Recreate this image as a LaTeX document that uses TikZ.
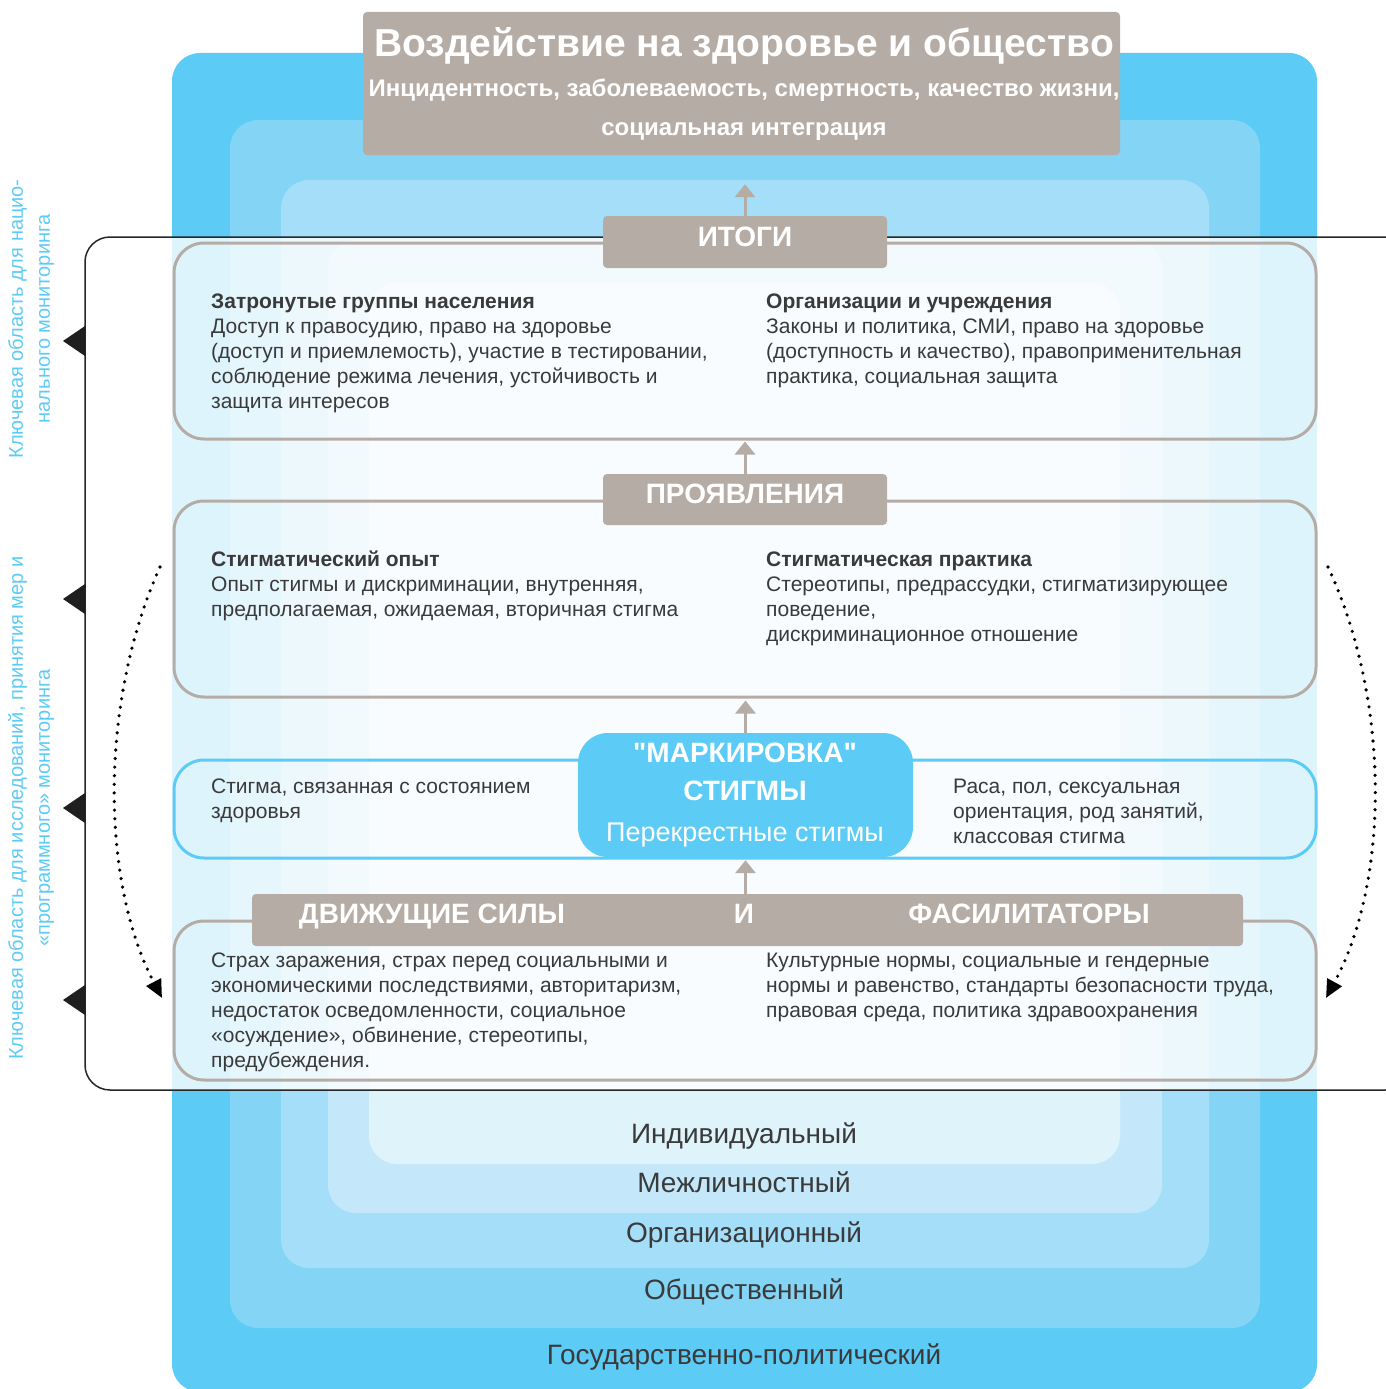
\documentclass[tikz,border=0pt]{standalone}
\usepackage{fontspec}
\setmainfont{Liberation Sans}
\newfontfamily\qfont{Liberation Sans}
\usetikzlibrary{arrows.meta}
\definecolor{lone}{HTML}{5CCBF5}
\definecolor{ltwo}{HTML}{84D4F5}
\definecolor{lthree}{HTML}{A5DEF8}
\definecolor{lfour}{HTML}{C4E8F9}
\definecolor{lfive}{HTML}{DFF3FB}
\definecolor{gbox}{HTML}{B5ACA6}
\definecolor{txt}{HTML}{3A3A3A}
\definecolor{vblue}{HTML}{5CCBF5}
\newcommand\txtblk[2]{\parbox[t]{#1pt}{\raggedright\fontsize{21}{25.2}\selectfont #2}}
\newcommand\sq{{\qfont\bfseries\symbol{34}}}
\begin{document}
\begin{tikzpicture}[x=1pt,y=-1pt,
  layer/.style={rounded corners=28pt},
  lbl/.style={fill=gbox, rounded corners=4pt, inner sep=0pt, draw=none},
  cbox/.style={draw=gbox, line width=3pt, rounded corners=30pt, inner sep=0pt},
  bbox/.style={draw=lone, line width=3pt, rounded corners=30pt, inner sep=0pt},
  garrow/.style={draw=gbox, line width=3pt, -{Triangle[length=13pt,width=20pt]}},
  body/.style={anchor=base west, inner sep=0pt, text=txt},
  lbltext/.style={anchor=base, inner sep=0pt, text=white, font=\bfseries\fontsize{28}{32}\selectfont},
  level/.style={anchor=base, inner sep=0pt, text=txt, font=\fontsize{28}{32}\selectfont},
  vtext/.style={rotate=90, text=vblue, align=center, inner sep=0pt, font=\fontsize{20}{27}\selectfont},
  dotarc/.style={line width=3.6pt, line cap=round, dash pattern=on 0pt off 8.6pt, -{Triangle[length=18pt,width=16pt]}},
  tri/.style={fill=black!88}
]
\useasboundingbox (0,0) rectangle (1386,1389);
\begin{scope}
\clip (0,0) rectangle (1386,1389);
\fill[lone, layer] (172,53) rectangle (1317,1392);
\fill[ltwo, layer] (230,120) rectangle (1260,1328);
\fill[lthree, layer] (281,180) rectangle (1209,1268);
\fill[lfour, layer] (328,240) rectangle (1162,1213);
\fill[lfive, layer] (369,283) rectangle (1120,1164);
% white overlay frame
\fill[white, opacity=0.8, rounded corners=25pt] (85,237) rectangle (1410,1090);
\draw[black!85, line width=1.5pt, rounded corners=25pt] (85,237) rectangle (1410,1090);
\end{scope}

% level labels
\node[level] (lv5) at (744,1143) {Индивидуальный};
\node[level] (lv4) at (744,1192) {Межличностный};
\node[level] (lv3) at (744,1242) {Организационный};
\node[level] (lv2) at (744,1299) {Общественный};
\node[level] (lv1) at (744,1364) {Государственно-политический};

% content boxes
\node[cbox, minimum width=1142pt, minimum height=196pt] (boxA) at (745,341) {};
\node[cbox, minimum width=1142pt, minimum height=196pt] (boxB) at (745,599) {};
\node[bbox, minimum width=1142pt, minimum height=98pt] (boxC) at (745,809) {};
\node[cbox, minimum width=1142pt, minimum height=159pt] (boxD) at (745,1000.5) {};

% title
\node[lbl, minimum width=757pt, minimum height=143pt] (title) at (741.5,83.5) {};
\node[anchor=base, inner sep=0pt, text=white, font=\bfseries\fontsize{39}{44}\selectfont] (t1) at (744,57) {Воздействие на здоровье и общество};
\node[anchor=base, inner sep=0pt, text=white, font=\bfseries\fontsize{24}{28}\selectfont] (t2) at (744,96) {Инцидентность, заболеваемость, смертность, качество жизни,};
\node[anchor=base, inner sep=0pt, text=white, font=\bfseries\fontsize{24}{28}\selectfont] (t3) at (744,135) {социальная интеграция};

% label boxes
\node[lbl, minimum width=284pt, minimum height=52pt] (itogi) at (745,242) {};
\node[lbltext] (itogit) at (745,246) {ИТОГИ};
\node[lbl, minimum width=284pt, minimum height=51pt] (proyav) at (745,499.5) {};
\node[lbltext] (proyavt) at (745,503) {ПРОЯВЛЕНИЯ};
\node[fill=lone, rounded corners=30pt, inner sep=0pt, minimum width=335pt, minimum height=124pt] (marker) at (745.5,795) {};
\node[lbltext] (mk1) at (745,762) {\sq МАРКИРОВКА\sq};
\node[lbltext] (mk2) at (745,800) {СТИГМЫ};
\node[anchor=base, inner sep=0pt, text=white, font=\fontsize{27}{30}\selectfont] (mk3) at (745,841) {Перекрестные стигмы};
\node[lbl, minimum width=991pt, minimum height=52pt] (drivers) at (747.5,920) {};
\node[lbltext] (dr1) at (432,923) {ДВИЖУЩИЕ СИЛЫ};
\node[lbltext] (dr2) at (744,923) {И};
\node[lbltext] (dr3) at (1029,923) {ФАСИЛИТАТОРЫ};

% arrows
\draw[garrow, shorten >=29pt] (itogi.north) -- (itogi.north |- title.south);
\draw[garrow, shorten >=1pt] (proyav.north) -- (proyav.north |- boxA.south);
\draw[garrow, shorten >=2pt] (marker.north) -- (marker.north |- boxB.south);
\draw[garrow, shorten >=3pt] (drivers.north -| marker.north) -- (marker.south);

% body texts
\node[body] (a1) at (211,308) {\txtblk{560}{\textbf{Затронутые группы населения}\\Доступ к правосудию, право на здоровье\\(доступ и приемлемость), участие в тестировании,\\соблюдение режима лечения, устойчивость и\\защита интересов}};
\node[body] (a2) at (766,308) {\txtblk{540}{\textbf{Организации и учреждения}\\Законы и политика, СМИ, право на здоровье\\(доступность и качество), правоприменительная\\практика, социальная защита}};
\node[body] (b1) at (211,566) {\txtblk{560}{\textbf{Стигматический опыт}\\Опыт стигмы и дискриминации, внутренняя,\\предполагаемая, ожидаемая, вторичная стигма}};
\node[body] (b2) at (766,566) {\txtblk{540}{\textbf{Стигматическая практика}\\Стереотипы, предрассудки, стигматизирующее\\поведение,\\дискриминационное отношение}};
\node[body] (c1) at (211,793) {\txtblk{360}{Стигма, связанная с состоянием\\здоровья}};
\node[body] (c2) at (953,793) {\txtblk{350}{Раса, пол, сексуальная\\ориентация, род занятий,\\классовая стигма}};
\node[body] (d1) at (211,967) {\txtblk{540}{Страх заражения, страх перед социальными и\\экономическими последствиями, авторитаризм,\\недостаток осведомленности, социальное\\«осуждение», обвинение, стереотипы,\\предубеждения.}};
\node[body] (d2) at (766,967) {\txtblk{560}{Культурные нормы, социальные и гендерные\\нормы и равенство, стандарты безопасности труда,\\правовая среда, политика здравоохранения}};

% frame triangles
\fill[tri] (85,326) -- (63,341) -- (85,356) -- cycle;
\fill[tri] (85,584) -- (63,599) -- (85,614) -- cycle;
\fill[tri] (85,793) -- (63,808) -- (85,823) -- cycle;
\fill[tri] (85,985) -- (63,1000) -- (85,1015) -- cycle;

% dotted arcs
\coordinate (ls) at (160,567);
\coordinate (le) at (162,998);
\coordinate (rs) at (1328,567);
\coordinate (re) at (1326,998);
\draw[dotarc] (ls) .. controls (100,700) and (100,880) .. (le);
\draw[dotarc] (rs) .. controls (1390,700) and (1390,880) .. (re);

% vertical texts
\node[vtext] (v1) at (31,319) {Ключевая область для нацио-\\нального мониторинга};
\node[vtext] (v2) at (31,808) {Ключевая область для исследований, принятия мер и\\«программного» мониторинга};
\end{tikzpicture}
\end{document}
